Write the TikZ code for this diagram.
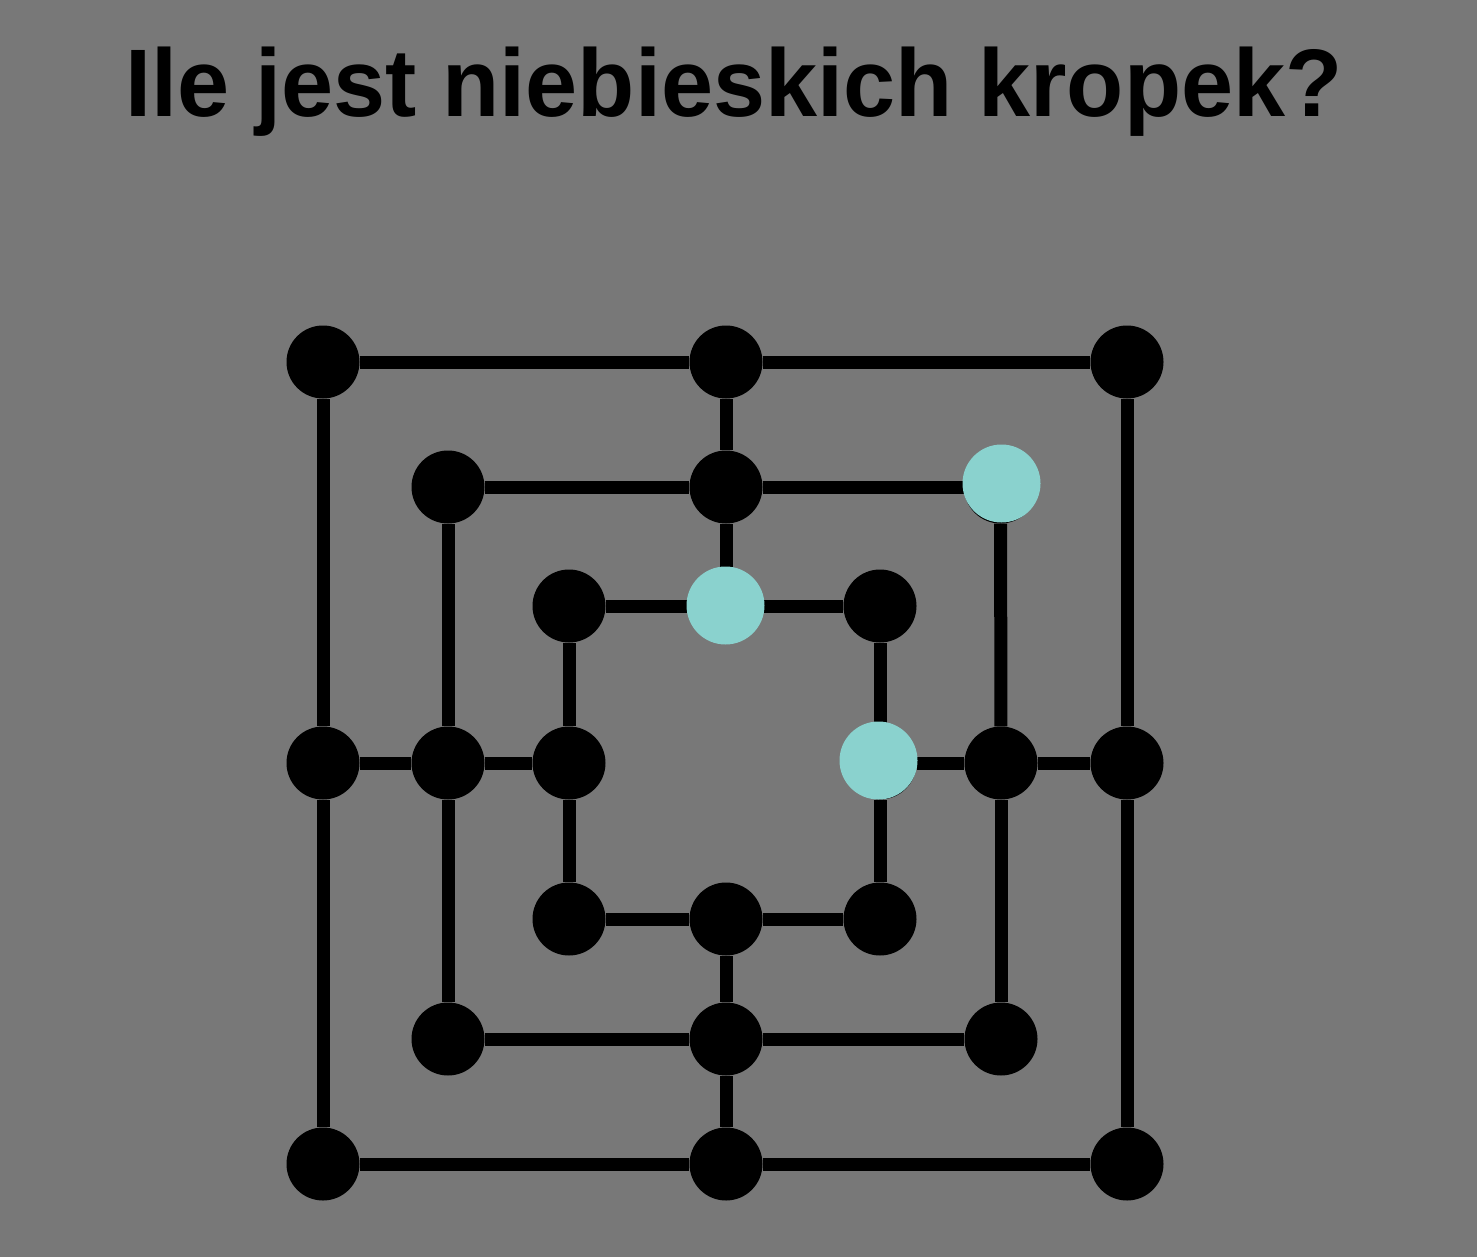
\documentclass[tikz,border=0pt]{standalone}
\usepackage{fontspec}
\setmainfont{Liberation Sans}
\definecolor{bg}{RGB}{120,120,120}
\definecolor{dotcyan}{RGB}{138,210,206}
\begin{document}
\begin{tikzpicture}[x=1pt,y=-1pt,
  dot/.style={circle,fill=black,minimum size=73pt,inner sep=0pt},
  bluedot/.style={circle,fill=dotcyan,minimum size=78pt,inner sep=0pt},
  link/.style={line width=13pt,draw=black}]
\fill[bg] (0,0) rectangle (1477,1257);
\useasboundingbox (0,0) rectangle (1477,1257);
\node[font=\fontsize{96}{110}\selectfont\bfseries, anchor=base, inner sep=0pt, xscale=0.975] (title) at (734,117) {Ile jest niebieskich kropek?};
% outer square
\node[dot] (a1) at (323,362) {};
\node[dot] (a2) at (726,362) {};
\node[dot] (a3) at (1127,362) {};
\node[dot] (a4) at (323,763) {};
\node[dot] (a5) at (1127,763) {};
\node[dot] (a6) at (323,1164) {};
\node[dot] (a7) at (726,1164) {};
\node[dot] (a8) at (1127,1164) {};
% middle square
\node[dot] (b1) at (448,487) {};
\node[dot] (b2) at (726,487) {};
\node[dot] (b3) at (1000.5,487) {};
\node[dot] (b4) at (448,763) {};
\node[dot] (b5) at (1001,763) {};
\node[dot] (b6) at (448,1039) {};
\node[dot] (b7) at (726,1039) {};
\node[dot] (b8) at (1001,1039) {};
% inner square
\node[dot] (c1) at (569,606) {};
\node[dot] (c2) at (726,606) {};
\node[dot] (c3) at (880,606) {};
\node[dot] (c4) at (569,763) {};
\node[dot] (c5) at (880,763) {};
\node[dot] (c6) at (569,919) {};
\node[dot] (c7) at (726,919) {};
\node[dot] (c8) at (880,919) {};
% connectors
\draw[link] (a1) -- (a2);
\draw[link] (a2) -- (a3);
\draw[link] (a3) -- (a5);
\draw[link] (a5) -- (a8);
\draw[link] (a8) -- (a7);
\draw[link] (a7) -- (a6);
\draw[link] (a6) -- (a4);
\draw[link] (a4) -- (a1);
\draw[link] (b1) -- (b2);
\draw[link] (b2) -- (b3);
\draw[link] (b3) -- (b5);
\draw[link] (b5) -- (b8);
\draw[link] (b8) -- (b7);
\draw[link] (b7) -- (b6);
\draw[link] (b6) -- (b4);
\draw[link] (b4) -- (b1);
\draw[link] (c1) -- (c2);
\draw[link] (c2) -- (c3);
\draw[link] (c3) -- (c5);
\draw[link] (c5) -- (c8);
\draw[link] (c8) -- (c7);
\draw[link] (c7) -- (c6);
\draw[link] (c6) -- (c4);
\draw[link] (c4) -- (c1);
\draw[link] (a2) -- (b2);
\draw[link] (b2) -- (c2);
\draw[link] (a4) -- (b4);
\draw[link] (b4) -- (c4);
\draw[link] (c5) -- (b5);
\draw[link] (b5) -- (a5);
\draw[link] (c7) -- (b7);
\draw[link] (b7) -- (a7);
% blue dots
\node[bluedot] (q1) at (1001.5,483.5) {};
\node[bluedot] (q2) at (725.5,605.5) {};
\node[bluedot] (q3) at (878.5,760.5) {};
\end{tikzpicture}
\end{document}
